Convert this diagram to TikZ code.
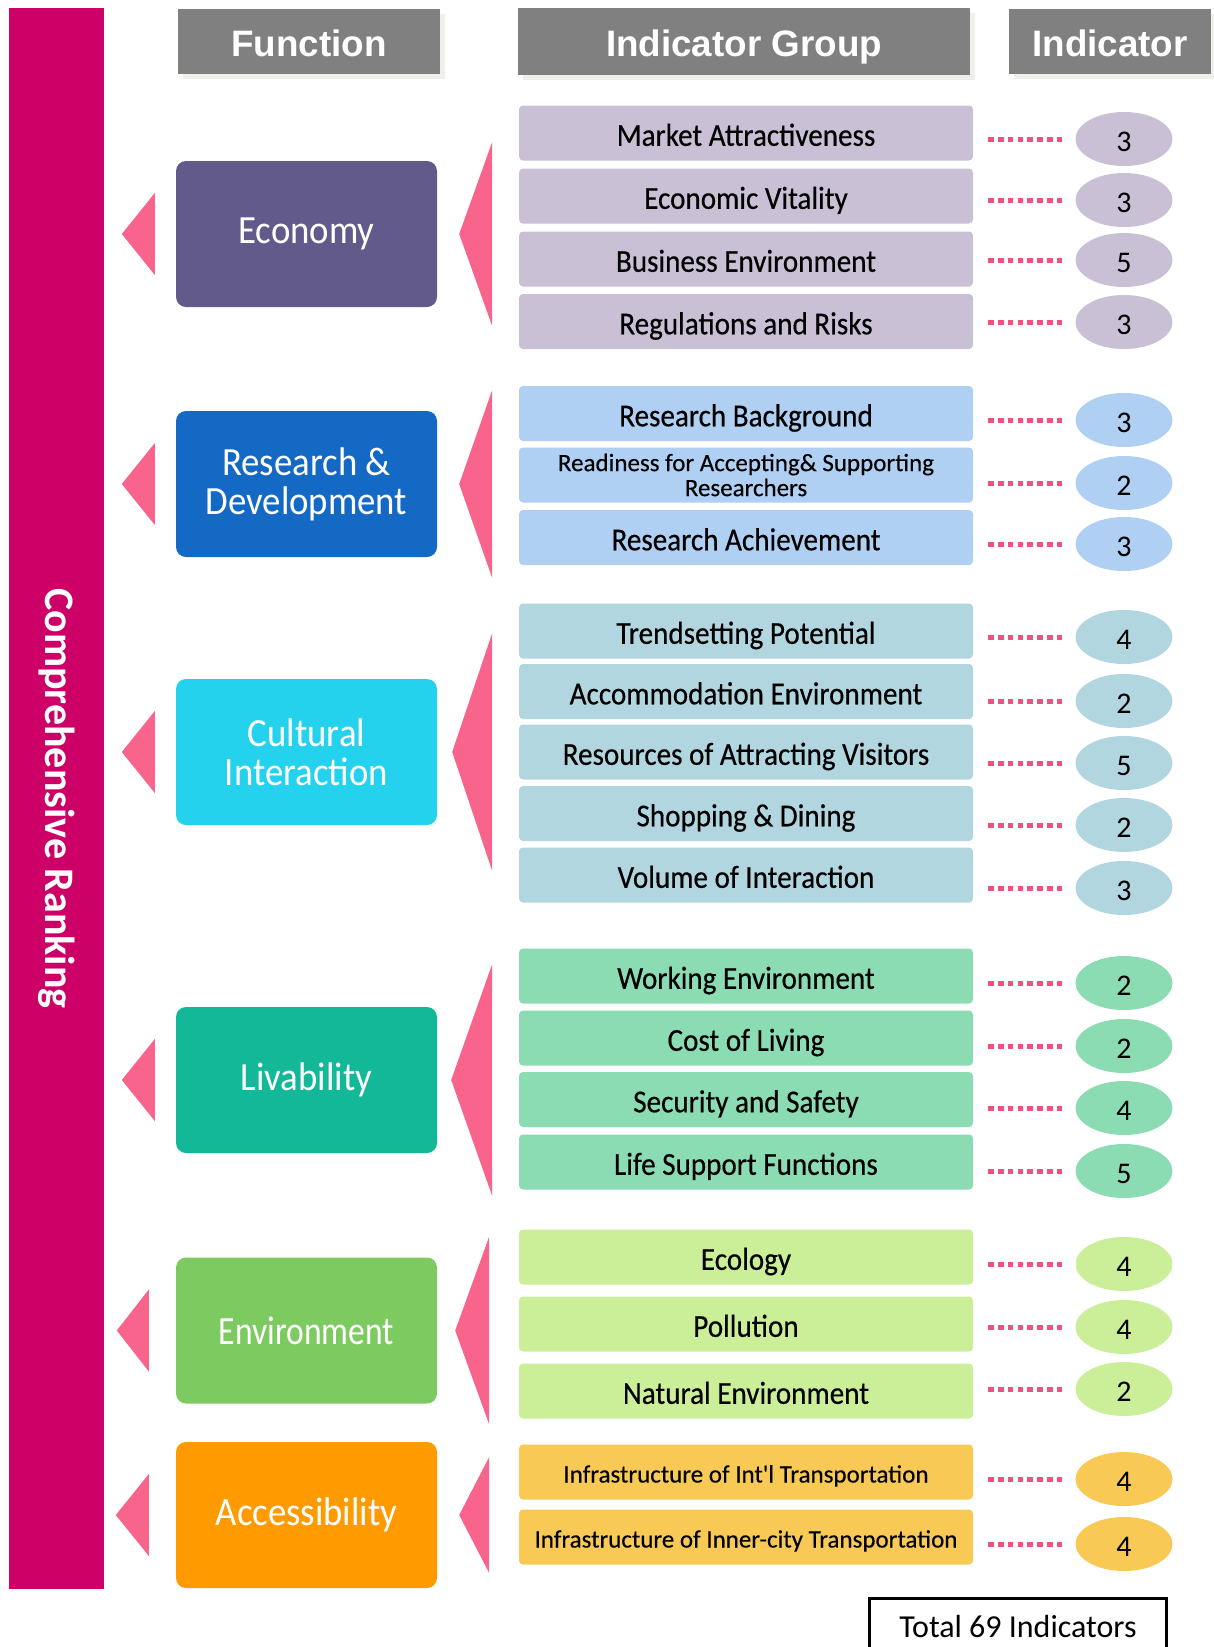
\documentclass[tikz,border=0pt]{standalone}
\usepackage{fontspec}
\usepackage{tikz}
\usetikzlibrary{shapes.geometric,shadows,calc}

\newfontfamily\headfam{Liberation Sans}
\newfontfamily\funcfam{Carlito}[FakeStretch=0.92]
\newfontfamily\funcnarrowfam{Carlito}[FakeStretch=0.84]
\newfontfamily\boxfam{Carlito}[FakeStretch=0.91, FakeBold=0.4]
\newfontfamily\smallfam{Carlito}[FakeBold=0.3]
\newfontfamily\plainfam{Carlito}

\definecolor{rankred}{HTML}{CC0066}
\definecolor{tripink}{HTML}{F8648C}
\definecolor{dotpink}{HTML}{F2507F}
\definecolor{headgray}{HTML}{808080}
\definecolor{headshade}{HTML}{F1EFE9}
\definecolor{econdark}{HTML}{635A8C}
\definecolor{econlight}{HTML}{C9C0D6}
\definecolor{rnddark}{HTML}{1469C4}
\definecolor{rndlight}{HTML}{AFCFF3}
\definecolor{cultdark}{HTML}{24D2EE}
\definecolor{cultlight}{HTML}{B2D6E0}
\definecolor{livdark}{HTML}{12B898}
\definecolor{livlight}{HTML}{8BDBB3}
\definecolor{envdark}{HTML}{7DCB60}
\definecolor{envlight}{HTML}{CBEE98}
\definecolor{accdark}{HTML}{FF9A00}
\definecolor{acclight}{HTML}{F8C955}

\tikzset{
	head/.style={fill=headgray, text=white, inner sep=0pt, text height=30pt, text depth=0pt,
		font=\headfam\bfseries\fontsize{36.8}{40}\selectfont,
		drop shadow={shadow xshift=5pt, shadow yshift=-5pt, fill=headshade, opacity=1}},
	func/.style={rounded corners=10pt, minimum width=261pt, minimum height=146pt, inner sep=0pt,
		text=white, align=center, font=\funcfam\fontsize{40}{39}\selectfont},
	grp/.style={rounded corners=4pt, minimum width=454pt, minimum height=55pt, inner sep=0pt,
		text height=25.6pt, text depth=0pt, font=\boxfam\fontsize{32}{32}\selectfont},
	grpsmall/.style={grp, text height=21pt, font=\smallfam\fontsize{25}{25}\selectfont},
	count/.style={ellipse, minimum width=97pt, minimum height=54pt, inner sep=0pt,
		text height=24pt, text depth=0pt, font=\plainfam\fontsize{30}{30}\selectfont},
	tri/.style={fill=tripink},
	dotline/.style={draw=dotpink, line width=5pt, dash pattern=on 5.5pt off 4.3pt,
		shorten <=15pt, shorten >=12pt},
}

\begin{document}
\begin{tikzpicture}[x=1pt,y=-1pt]
			\useasboundingbox (0,0) rectangle (1214,1647);

			\node[rotate=-90, fill=rankred, minimum width=1581pt, minimum height=95pt, inner sep=0pt, text=white,
				font=\plainfam\bfseries\fontsize{42}{42}\selectfont] (rank) at (56.5,798.5) {Comprehensive Ranking};

			\node[head, minimum width=262pt, minimum height=65pt] (hfunc) at (309,41.5) {Function};
			\node[head, minimum width=452pt, minimum height=67pt] (hgroup) at (744,41.5) {Indicator Group};
			\node[head, minimum width=202pt, minimum height=65pt] (hind) at (1110,41.5) {Indicator};

			\node[func, fill=econdark] (econ) at (306.5,234) {Economy};
			\node[func, fill=rnddark] (rnd) at (306.5,484) {Research \&\\Development};
			\node[func, fill=cultdark] (cult) at (306.5,752) {Cultural\\Interaction};
			\node[func, fill=livdark] (liv) at (306.5,1080) {Livability};
			\node[func, fill=envdark, font=\funcnarrowfam\fontsize{40}{39}\selectfont] (env) at (306.5,1330.5) {Environment};
			\node[func, fill=accdark] (acc) at (306.5,1515) {Accessibility};

			\fill[tri] ($(econ.west)+(-21,-41)$) -- ($(econ.west)+(-54,0)$) -- ($(econ.west)+(-21,41)$) -- cycle;
			\fill[tri] ($(rnd.west)+(-21,-41)$) -- ($(rnd.west)+(-54,0)$) -- ($(rnd.west)+(-21,41)$) -- cycle;
			\fill[tri] ($(cult.west)+(-21,-41)$) -- ($(cult.west)+(-54,0)$) -- ($(cult.west)+(-21,41)$) -- cycle;
			\fill[tri] ($(liv.west)+(-21,-41)$) -- ($(liv.west)+(-54,0)$) -- ($(liv.west)+(-21,41)$) -- cycle;
			\fill[tri] ($(env.west)+(-27,-41)$) -- ($(env.west)+(-59,0)$) -- ($(env.west)+(-27,41)$) -- cycle;
			\fill[tri] ($(acc.west)+(-27,-41)$) -- ($(acc.west)+(-60,0)$) -- ($(acc.west)+(-27,41)$) -- cycle;

			\fill[tri] ($(econ.east)+(55,-92)$) -- ($(econ.east)+(22,0)$) -- ($(econ.east)+(55,92)$) -- cycle;
			\fill[tri] ($(rnd.east)+(55,-94)$) -- ($(rnd.east)+(22,0)$) -- ($(rnd.east)+(55,94)$) -- cycle;
			\fill[tri] ($(cult.east)+(55,-119)$) -- ($(cult.east)+(15,0)$) -- ($(cult.east)+(55,119)$) -- cycle;
			\fill[tri] ($(liv.east)+(55,-116)$) -- ($(liv.east)+(14,0)$) -- ($(liv.east)+(55,116)$) -- cycle;
			\fill[tri] ($(env.east)+(52,-94)$) -- ($(env.east)+(18,0)$) -- ($(env.east)+(52,94)$) -- cycle;
			\fill[tri] ($(acc.east)+(52,-58)$) -- ($(acc.east)+(22,0)$) -- ($(acc.east)+(52,58)$) -- cycle;

			\node[grp, fill=econlight] (g11) at (746,133) {Market Attractiveness};
			\node[grp, fill=econlight] (g12) at (746,196) {Economic Vitality};
			\node[grp, fill=econlight] (g13) at (746,259) {Business Environment};
			\node[grp, fill=econlight] (g14) at (746,321.5) {Regulations and Risks};
			\node[grp, fill=rndlight] (g21) at (746,413.5) {Research Background};
			\node[grp, fill=rndlight, text height=, text depth=, align=center, font=\smallfam\fontsize{25}{25}\selectfont] (g22) at (746,475) {Readiness for Accepting\& Supporting\\Researchers};
			\node[grp, fill=rndlight] (g23) at (746,537.5) {Research Achievement};
			\node[grp, fill=cultlight] (g31) at (746,631) {Trendsetting Potential};
			\node[grp, fill=cultlight] (g32) at (746,691.5) {Accommodation Environment};
			\node[grp, fill=cultlight] (g33) at (746,752) {Resources of Attracting Visitors};
			\node[grp, fill=cultlight] (g34) at (746,813.5) {Shopping \& Dining};
			\node[grp, fill=cultlight] (g35) at (746,875) {Volume of Interaction};
			\node[grp, fill=livlight] (g41) at (746,976) {Working Environment};
			\node[grp, fill=livlight] (g42) at (746,1038) {Cost of Living};
			\node[grp, fill=livlight] (g43) at (746,1099.5) {Security and Safety};
			\node[grp, fill=livlight] (g44) at (746,1162) {Life Support Functions};
			\node[grp, fill=envlight] (g51) at (746,1257) {Ecology};
			\node[grp, fill=envlight] (g52) at (746,1324) {Pollution};
			\node[grp, fill=envlight] (g53) at (746,1391) {Natural Environment};
			\node[grpsmall, fill=acclight] (g61) at (746,1472) {Infrastructure of Int'l Transportation};
			\node[grpsmall, fill=acclight] (g62) at (746,1537) {Infrastructure of Inner-city Transportation};

			\node[count, fill=econlight] (n11) at (1124,139) {3};
			\node[count, fill=econlight] (n12) at (1124,200) {3};
			\node[count, fill=econlight] (n13) at (1124,260) {5};
			\node[count, fill=econlight] (n14) at (1124,322) {3};
			\node[count, fill=rndlight] (n21) at (1124,420) {3};
			\node[count, fill=rndlight] (n22) at (1124,483) {2};
			\node[count, fill=rndlight] (n23) at (1124,544) {3};
			\node[count, fill=cultlight] (n31) at (1124,637) {4};
			\node[count, fill=cultlight] (n32) at (1124,701) {2};
			\node[count, fill=cultlight] (n33) at (1124,763) {5};
			\node[count, fill=cultlight] (n34) at (1124,825) {2};
			\node[count, fill=cultlight] (n35) at (1124,888) {3};
			\node[count, fill=livlight] (n41) at (1124,983) {2};
			\node[count, fill=livlight] (n42) at (1124,1046) {2};
			\node[count, fill=livlight] (n43) at (1124,1108) {4};
			\node[count, fill=livlight] (n44) at (1124,1171) {5};
			\node[count, fill=envlight] (n51) at (1124,1264) {4};
			\node[count, fill=envlight] (n52) at (1124,1327) {4};
			\node[count, fill=envlight] (n53) at (1124,1389) {2};
			\node[count, fill=acclight] (n61) at (1124,1479) {4};
			\node[count, fill=acclight] (n62) at (1124,1544) {4};

			\draw[dotline] (g11.east |- n11) -- (n11.west);
			\draw[dotline] (g12.east |- n12) -- (n12.west);
			\draw[dotline] (g13.east |- n13) -- (n13.west);
			\draw[dotline] (g14.east |- n14) -- (n14.west);
			\draw[dotline] (g21.east |- n21) -- (n21.west);
			\draw[dotline] (g22.east |- n22) -- (n22.west);
			\draw[dotline] (g23.east |- n23) -- (n23.west);
			\draw[dotline] (g31.east |- n31) -- (n31.west);
			\draw[dotline] (g32.east |- n32) -- (n32.west);
			\draw[dotline] (g33.east |- n33) -- (n33.west);
			\draw[dotline] (g34.east |- n34) -- (n34.west);
			\draw[dotline] (g35.east |- n35) -- (n35.west);
			\draw[dotline] (g41.east |- n41) -- (n41.west);
			\draw[dotline] (g42.east |- n42) -- (n42.west);
			\draw[dotline] (g43.east |- n43) -- (n43.west);
			\draw[dotline] (g44.east |- n44) -- (n44.west);
			\draw[dotline] (g51.east |- n51) -- (n51.west);
			\draw[dotline] (g52.east |- n52) -- (n52.west);
			\draw[dotline] (g53.east |- n53) -- (n53.west);
			\draw[dotline] (g61.east |- n61) -- (n61.west);
			\draw[dotline] (g62.east |- n62) -- (n62.west);

			\node[draw=black, line width=3pt, minimum width=297pt, minimum height=55pt, inner sep=0pt,
				font=\plainfam\fontsize{32}{32}\selectfont] (total) at (1018,1626) {Total 69 Indicators};
		\end{tikzpicture}
\end{document}
